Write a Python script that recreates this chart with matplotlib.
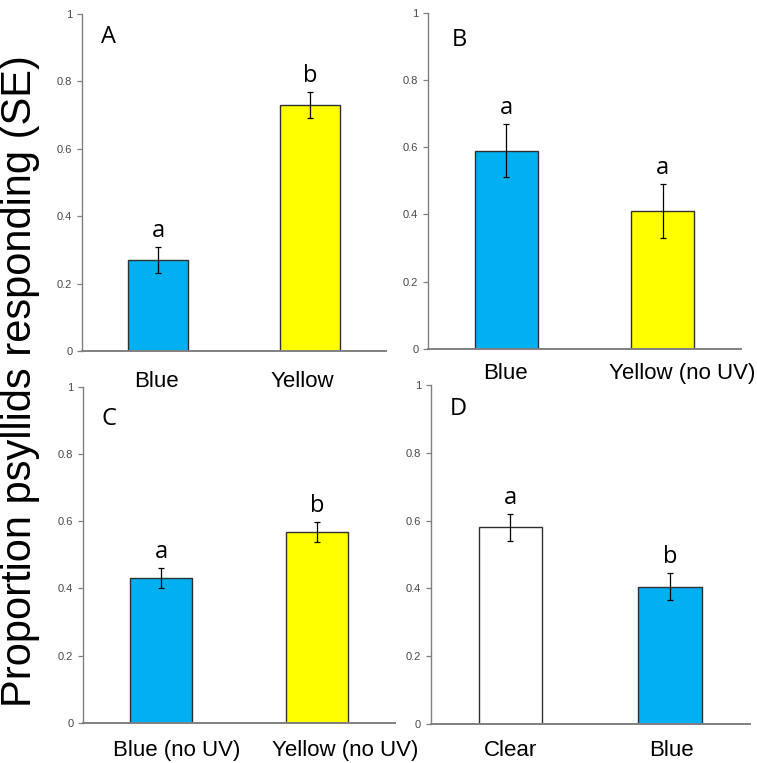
import matplotlib
matplotlib.use("Agg")
import matplotlib.pyplot as plt
from matplotlib.ticker import FixedLocator, FixedFormatter

BLUE = "#00b0f0"
YELLOW = "#ffff00"
WHITE = "#ffffff"

# panel data
labels_a = ["Blue", "Yellow"]
values_a = [0.27, 0.73]
se_a = [0.04, 0.04]
sig_a = ["a", "b"]
colors_a = [BLUE, YELLOW]

labels_b = ["Blue", "Yellow (no UV)"]
values_b = [0.59, 0.41]
se_b = [0.08, 0.08]
sig_b = ["a", "a"]
colors_b = [BLUE, YELLOW]

labels_c = ["Blue (no UV)", "Yellow (no UV)"]
values_c = [0.43, 0.567]
se_c = [0.03, 0.03]
sig_c = ["a", "b"]
colors_c = [BLUE, YELLOW]

labels_d = ["Clear", "Blue"]
values_d = [0.58, 0.405]
se_d = [0.04, 0.04]
sig_d = ["a", "b"]
colors_d = [WHITE, BLUE]

y_ticks = [0, 0.2, 0.4, 0.6, 0.8, 1.0]
y_tick_labels = ["0", "0.2", "0.4", "0.6", "0.8", "1"]

W, H = 757, 763
fig = plt.figure(figsize=(W / 100, H / 100), dpi=100)


def px_axes(left, right, top, bottom):
    # pixel box -> figure fraction
    ax = fig.add_axes([left / W, 1 - bottom / H, (right - left) / W, (bottom - top) / H])
    ax.patch.set_visible(False)  # panels overlap a bit, keep labels visible
    return ax


def draw_panel(ax, letter, letter_pos, labels, values, se, sig, colors, label_pad, label_dx):
    x = list(range(len(labels)))
    ax.bar(x, values, width=0.4, color=colors, edgecolor="#303030", linewidth=1.0, zorder=2)
    ax.errorbar(x, values, yerr=se, fmt="none", ecolor="black", elinewidth=0.9,
                capsize=2.2, capthick=0.9, zorder=3)
    for xi, v, s, t in zip(x, values, se, sig):
        ax.annotate(t, (xi, v + s), xytext=(0, 7), textcoords="offset points",
                    ha="center", va="baseline", fontsize=17, family="Open Sans")

    ax.set_xlim(-0.5, 1.5)
    ax.set_ylim(0, 1)
    ax.yaxis.set_major_locator(FixedLocator(y_ticks))
    ax.yaxis.set_major_formatter(FixedFormatter(y_tick_labels))
    ax.set_xticks([])
    # category labels sit a little off the bar centres in the original
    for xi, lab, dx in zip(x, labels, label_dx):
        ax.annotate(lab, (xi, 0), xycoords=("data", "axes fraction"),
                    xytext=(dx * 0.72, -label_pad), textcoords="offset points",
                    ha="center", va="top", fontsize=16, family="Liberation Sans",
                    annotation_clip=False)
    ax.tick_params(axis="y", length=3.5, width=0.9, color="#808080", pad=3.5,
                   labelsize=8, labelcolor="#4d4646")
    for lab in ax.get_yticklabels():
        lab.set_family("Liberation Sans")

    for side in ("top", "right"):
        ax.spines[side].set_visible(False)
    ax.spines["left"].set_color("#808080")
    ax.spines["left"].set_linewidth(1.0)
    ax.spines["bottom"].set_color("#808080")
    ax.spines["bottom"].set_linewidth(1.4)

    ax.text(letter_pos[0], letter_pos[1], letter, transform=ax.transAxes,
            fontsize=17, family="Open Sans", ha="left", va="baseline")


ax_a = px_axes(82, 386, 14, 351)
ax_b = px_axes(428, 741, 12.7, 349)
ax_c = px_axes(83, 395, 386.7, 722.7)
ax_d = px_axes(430.7, 749.7, 384.7, 724.3)

draw_panel(ax_a, "A", (0.062, 0.914), labels_a, values_a, se_a, sig_a, colors_a, 14.5, (-2, -8))
draw_panel(ax_b, "B", (0.076, 0.902), labels_b, values_b, se_b, sig_b, colors_b, 10, (-1, 19))
draw_panel(ax_c, "C", (0.060, 0.886), labels_c, values_c, se_c, sig_c, colors_c, 12.5, (16, 28))
draw_panel(ax_d, "D", (0.060, 0.911), labels_d, values_d, se_d, sig_d, colors_d, 11.5, (0, 1))

fig.text(0.026, 0.5, "Proportion psyllids responding (SE)", rotation=90,
         ha="center", va="center", fontsize=30, family="Liberation Sans")

fig.savefig("out.png", dpi=100)
